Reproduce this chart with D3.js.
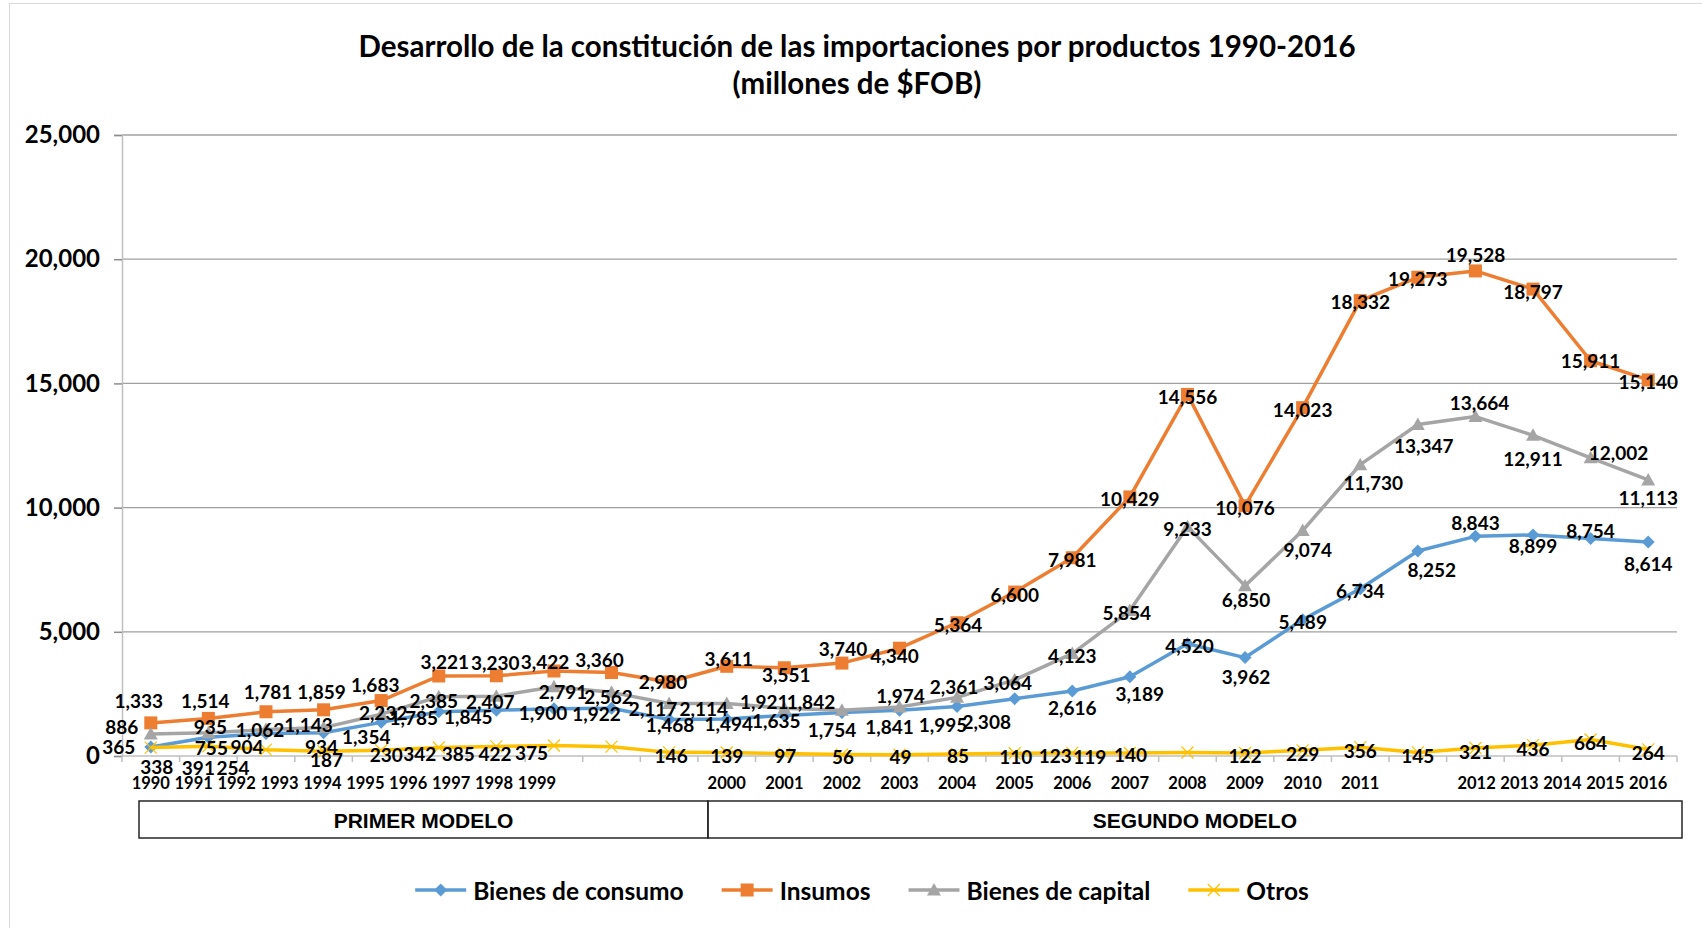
<!DOCTYPE html>
<html>
<head>
<meta charset="utf-8">
<script src="https://cdn.jsdelivr.net/npm/d3@7"></script>
<style>
  body { margin: 0; background: #fff; }
  svg { display: block; }
  text { font-family: Lato, 'Open Sans', sans-serif; font-weight: 700; fill: #000; }
</style>
</head>
<body>
<svg id="chart" width="1702" height="928"></svg>
<script>
// Importaciones por uso o destino economico, millones de US$ FOB
const years = [1990, 1991, 1992, 1993, 1994, 1995, 1996, 1997, 1998, 1999,
  2000, 2001, 2002, 2003, 2004, 2005, 2006, 2007, 2008, 2009,
  2010, 2011, 2012, 2013, 2014, 2015, 2016];
const consumo = [365, 755, 904, 934, 1354, 1785, 1845, 1900, 1922, 1468,
  1494, 1635, 1754, 1841, 1995, 2308, 2616, 3189, 4520, 3962,
  5489, 6734, 8252, 8843, 8899, 8754, 8614];
const insumos = [1333, 1514, 1781, 1859, 2232, 3221, 3230, 3422, 3360, 2980,
  3611, 3551, 3740, 4340, 5364, 6600, 7981, 10429, 14556, 10076,
  14023, 18332, 19273, 19528, 18797, 15911, 15140];
const capital = [886, 935, 1062, 1143, 1683, 2385, 2407, 2791, 2562, 2117,
  2114, 1921, 1842, 1974, 2361, 3064, 4123, 5854, 9233, 6850,
  9074, 11730, 13347, 13664, 12911, 12002, 11113];
const otros = [338, 391, 254, 187, 230, 342, 385, 422, 375, 146,
  139, 97, 56, 49, 85, 110, 123, 119, 140, 122,
  229, 356, 145, 321, 436, 664, 264];
const yTicks = [0, 5000, 10000, 15000, 20000, 25000];
const modelos = [
  { name: 'PRIMER MODELO', from: 1990, to: 1999 },
  { name: 'SEGUNDO MODELO', from: 2000, to: 2016 }
];
// year labels that were typed as one run of text in the original
const firstRun = [1990, 1991, 1992, 1993, 1994, 1995, 1996, 1997, 1998, 1999];
const lastRun = [2012, 2013, 2014, 2015, 2016];

// where each data label sits, relative to its point (px)
const offConsumo = [[-32,0],[3,10],[-19,13],[-2,14],[-15,14],[-25,6],[-28,6],[-11,4],[-15,5],[1,5],
  [2,5],[-8,5],[-10,17],[-10,16],[-14,18],[-28,23],[0,16],[10,17],[2,2],[1,19],
  [0,2],[0,2],[14,18],[0,-14],[0,11],[0,-8],[0,21]];
const offInsumos = [[-12,-22],[-3,-18],[2,-20],[-2,-18],[2,12],[6,-14],[-1,-13],[-9,-9],[-12,-13],[-6,0],
  [2,-8],[2,7],[1,-15],[-5,7],[1,2],[0,2],[0,2],[0,2],[0,2],[0,2],
  [0,2],[0,1],[0,1],[0,-16],[0,2],[0,0],[0,2]];
const offCapital = [[-29,-7],[2,-6],[-6,0],[-15,-3],[-6,-30],[-5,4],[-6,5],[9,5],[-3,4],[-16,5],
  [-23,5],[-20,-7],[-31,-9],[1,-11],[-3,-11],[-7,3],[0,2],[-3,2],[0,2],[1,14],
  [5,19],[13,18],[6,21],[4,-14],[0,23],[28,-5],[0,18]];
const offOtros = [[6,19],[-10,21],[-33,18],[3,8],[5,4],[-19,6],[-38,7],[-59,8],[-80,6],[2,3],
  [0,3],[1,2],[1,2],[1,2],[1,2],[1,3],[-17,3],[-40,3],[-57,2],[0,3],
  [0,3],[0,3],[0,3],[0,3],[0,3],[0,3],[0,3]];

const series = [
  { name: 'Bienes de consumo', values: consumo, color: '#5b9bd5', marker: 'diamond', offsets: offConsumo },
  { name: 'Insumos', values: insumos, color: '#ed7d31', marker: 'square', offsets: offInsumos },
  { name: 'Bienes de capital', values: capital, color: '#a5a5a5', marker: 'triangle', offsets: offCapital },
  { name: 'Otros', values: otros, color: '#ffc000', marker: 'x', offsets: offOtros }
];

const svg = d3.select('#chart');
const plotLeft = 122, plotRight = 1677, plotTop = 135, plotBottom = 756;

// chart area border
svg.append('rect')
  .attr('x', 9.5).attr('y', 3.5).attr('width', 1720).attr('height', 960)
  .attr('fill', 'none').attr('stroke', '#d9d9d9').attr('stroke-width', 1);

svg.append('text')
  .attr('x', 857).attr('y', 45).attr('text-anchor', 'middle')
  .attr('dominant-baseline', 'central').style('font-size', '29.5px')
  .text('Desarrollo de la constitución de las importaciones por productos 1990-2016');
svg.append('text')
  .attr('x', 857).attr('y', 82).attr('text-anchor', 'middle')
  .attr('dominant-baseline', 'central').style('font-size', '29.5px')
  .text('(millones de $FOB)');

const x = d3.scaleBand().domain(years).range([plotLeft, plotRight]);
const y = d3.scaleLinear().domain([0, 25000]).range([plotBottom, plotTop]);
const bw = x.bandwidth();
const cx = (yr) => x(yr) + bw / 2;

// gridlines
svg.append('g')
  .selectAll('line')
  .data(yTicks.filter((d) => d > 0))
  .enter()
  .append('line')
  .attr('x1', plotLeft).attr('x2', plotRight)
  .attr('y1', (d) => y(d)).attr('y2', (d) => y(d))
  .attr('stroke', '#a0a0a0').attr('stroke-width', 1.3);

// y axis
const yAxis = svg.append('g')
  .attr('transform', `translate(${plotLeft},0)`)
  .call(d3.axisLeft(y).tickValues(yTicks).tickSize(8).tickPadding(14).tickFormat(d3.format(',')));
yAxis.select('.domain').attr('stroke', '#bfbfbf').attr('stroke-width', 1.5);
yAxis.selectAll('.tick line').attr('stroke', '#8c8c8c').attr('stroke-width', 1.5);
yAxis.selectAll('.tick text')
  .style('font-family', 'Lato, sans-serif').style('font-weight', 700)
  .style('font-size', '24px').attr('fill', '#000');

// x axis line and ticks at band edges
svg.append('line')
  .attr('x1', plotLeft).attr('x2', plotRight).attr('y1', plotBottom).attr('y2', plotBottom)
  .attr('stroke', '#bfbfbf').attr('stroke-width', 1.5);
svg.append('g')
  .selectAll('line')
  .data(years.concat(['end']))
  .enter()
  .append('line')
  .attr('x1', (d) => (d === 'end' ? plotRight : x(d)))
  .attr('x2', (d) => (d === 'end' ? plotRight : x(d)))
  .attr('y1', plotBottom).attr('y2', plotBottom + 6)
  .attr('stroke', '#bfbfbf').attr('stroke-width', 1.5);

// year labels
const pitch = bw * 0.745;
const labelX = (yr) => {
  const a = firstRun.indexOf(yr);
  if (a >= 0) return cx(firstRun[0]) + a * pitch;
  const b = lastRun.indexOf(yr);
  if (b >= 0) return cx(lastRun[lastRun.length - 1]) - (lastRun.length - 1 - b) * pitch;
  return cx(yr);
};
svg.append('g')
  .selectAll('text')
  .data(years)
  .enter()
  .append('text')
  .attr('x', (d) => labelX(d))
  .attr('y', 783)
  .attr('text-anchor', 'middle')
  .attr('dominant-baseline', 'central')
  .style('font-size', '16.5px')
  .text((d) => d);

// model boxes
const boxTop = 801, boxBottom = 838;
const modelGroup = svg.append('g');
modelos.forEach((m, i) => {
  const x0 = x(m.from) + (i === 0 ? 17 : 10);
  const x1 = x(m.to) + bw + (i === 0 ? 10 : 5);
  modelGroup.append('rect')
    .attr('x', x0).attr('y', boxTop).attr('width', x1 - x0).attr('height', boxBottom - boxTop)
    .attr('fill', 'none').attr('stroke', '#262626').attr('stroke-width', 1.5);
  modelGroup.append('text')
    .attr('x', (x0 + x1) / 2).attr('y', (boxTop + boxBottom) / 2 + 1)
    .attr('text-anchor', 'middle').attr('dominant-baseline', 'central')
    .style('font-family', "'Liberation Sans', Arial, sans-serif")
    .style('font-size', '21px')
    .text(m.name);
});

function drawMarker(g, type, color, px, py) {
  if (type === 'diamond') {
    g.append('path')
      .attr('d', `M${px},${py - 6.5}L${px + 6.5},${py}L${px},${py + 6.5}L${px - 6.5},${py}Z`)
      .attr('fill', color);
  } else if (type === 'square') {
    g.append('rect')
      .attr('x', px - 6.5).attr('y', py - 6.5).attr('width', 13).attr('height', 13)
      .attr('fill', color);
  } else if (type === 'triangle') {
    g.append('path')
      .attr('d', `M${px},${py - 7}L${px + 7},${py + 5.5}L${px - 7},${py + 5.5}Z`)
      .attr('fill', color);
  } else {
    g.append('path')
      .attr('d', `M${px - 6},${py - 6}L${px + 6},${py + 6}M${px - 6},${py + 6}L${px + 6},${py - 6}`)
      .attr('stroke', color).attr('stroke-width', 1.2).attr('fill', 'none');
  }
}

const line = d3.line()
  .x((d, i) => cx(years[i]))
  .y((d) => y(d));

const marks = svg.append('g');
series.forEach((s) => {
  marks.append('path')
    .datum(s.values)
    .attr('d', line)
    .attr('fill', 'none')
    .attr('stroke', s.color)
    .attr('stroke-width', 3.5)
    .attr('stroke-linejoin', 'round');
  const mg = marks.append('g');
  s.values.forEach((v, i) => drawMarker(mg, s.marker, s.color, cx(years[i]), y(v)));
});

// data labels
const fmt = d3.format(',');
const labels = svg.append('g');
series.forEach((s) => {
  labels.selectAll(null)
    .data(s.values)
    .enter()
    .append('text')
    .attr('x', (d, i) => cx(years[i]) + s.offsets[i][0])
    .attr('y', (d, i) => y(d) + s.offsets[i][1])
    .attr('text-anchor', 'middle')
    .attr('dominant-baseline', 'central')
    .style('font-size', '19px')
    .text((d) => fmt(d));
});

// legend
const legend = svg.append('g');
const items = [];
series.forEach((s) => {
  const g = legend.append('g');
  g.append('line').attr('x1', 0).attr('x2', 51).attr('y1', 0).attr('y2', 0)
    .attr('stroke', s.color).attr('stroke-width', 3.5);
  drawMarker(g, s.marker, s.color, 25.5, 0);
  const t = g.append('text').attr('x', 58).attr('y', 0)
    .attr('dominant-baseline', 'central').style('font-size', '24.5px').text(s.name);
  const w = 58 + t.node().getComputedTextLength();
  items.push({ g, w });
});
const gap = 38;
const total = d3.sum(items, (d) => d.w) + gap * (items.length - 1);
let lx = 862 - total / 2;
items.forEach((it) => {
  it.g.attr('transform', `translate(${lx},890)`);
  lx += it.w + gap;
});
</script>
</body>
</html>
